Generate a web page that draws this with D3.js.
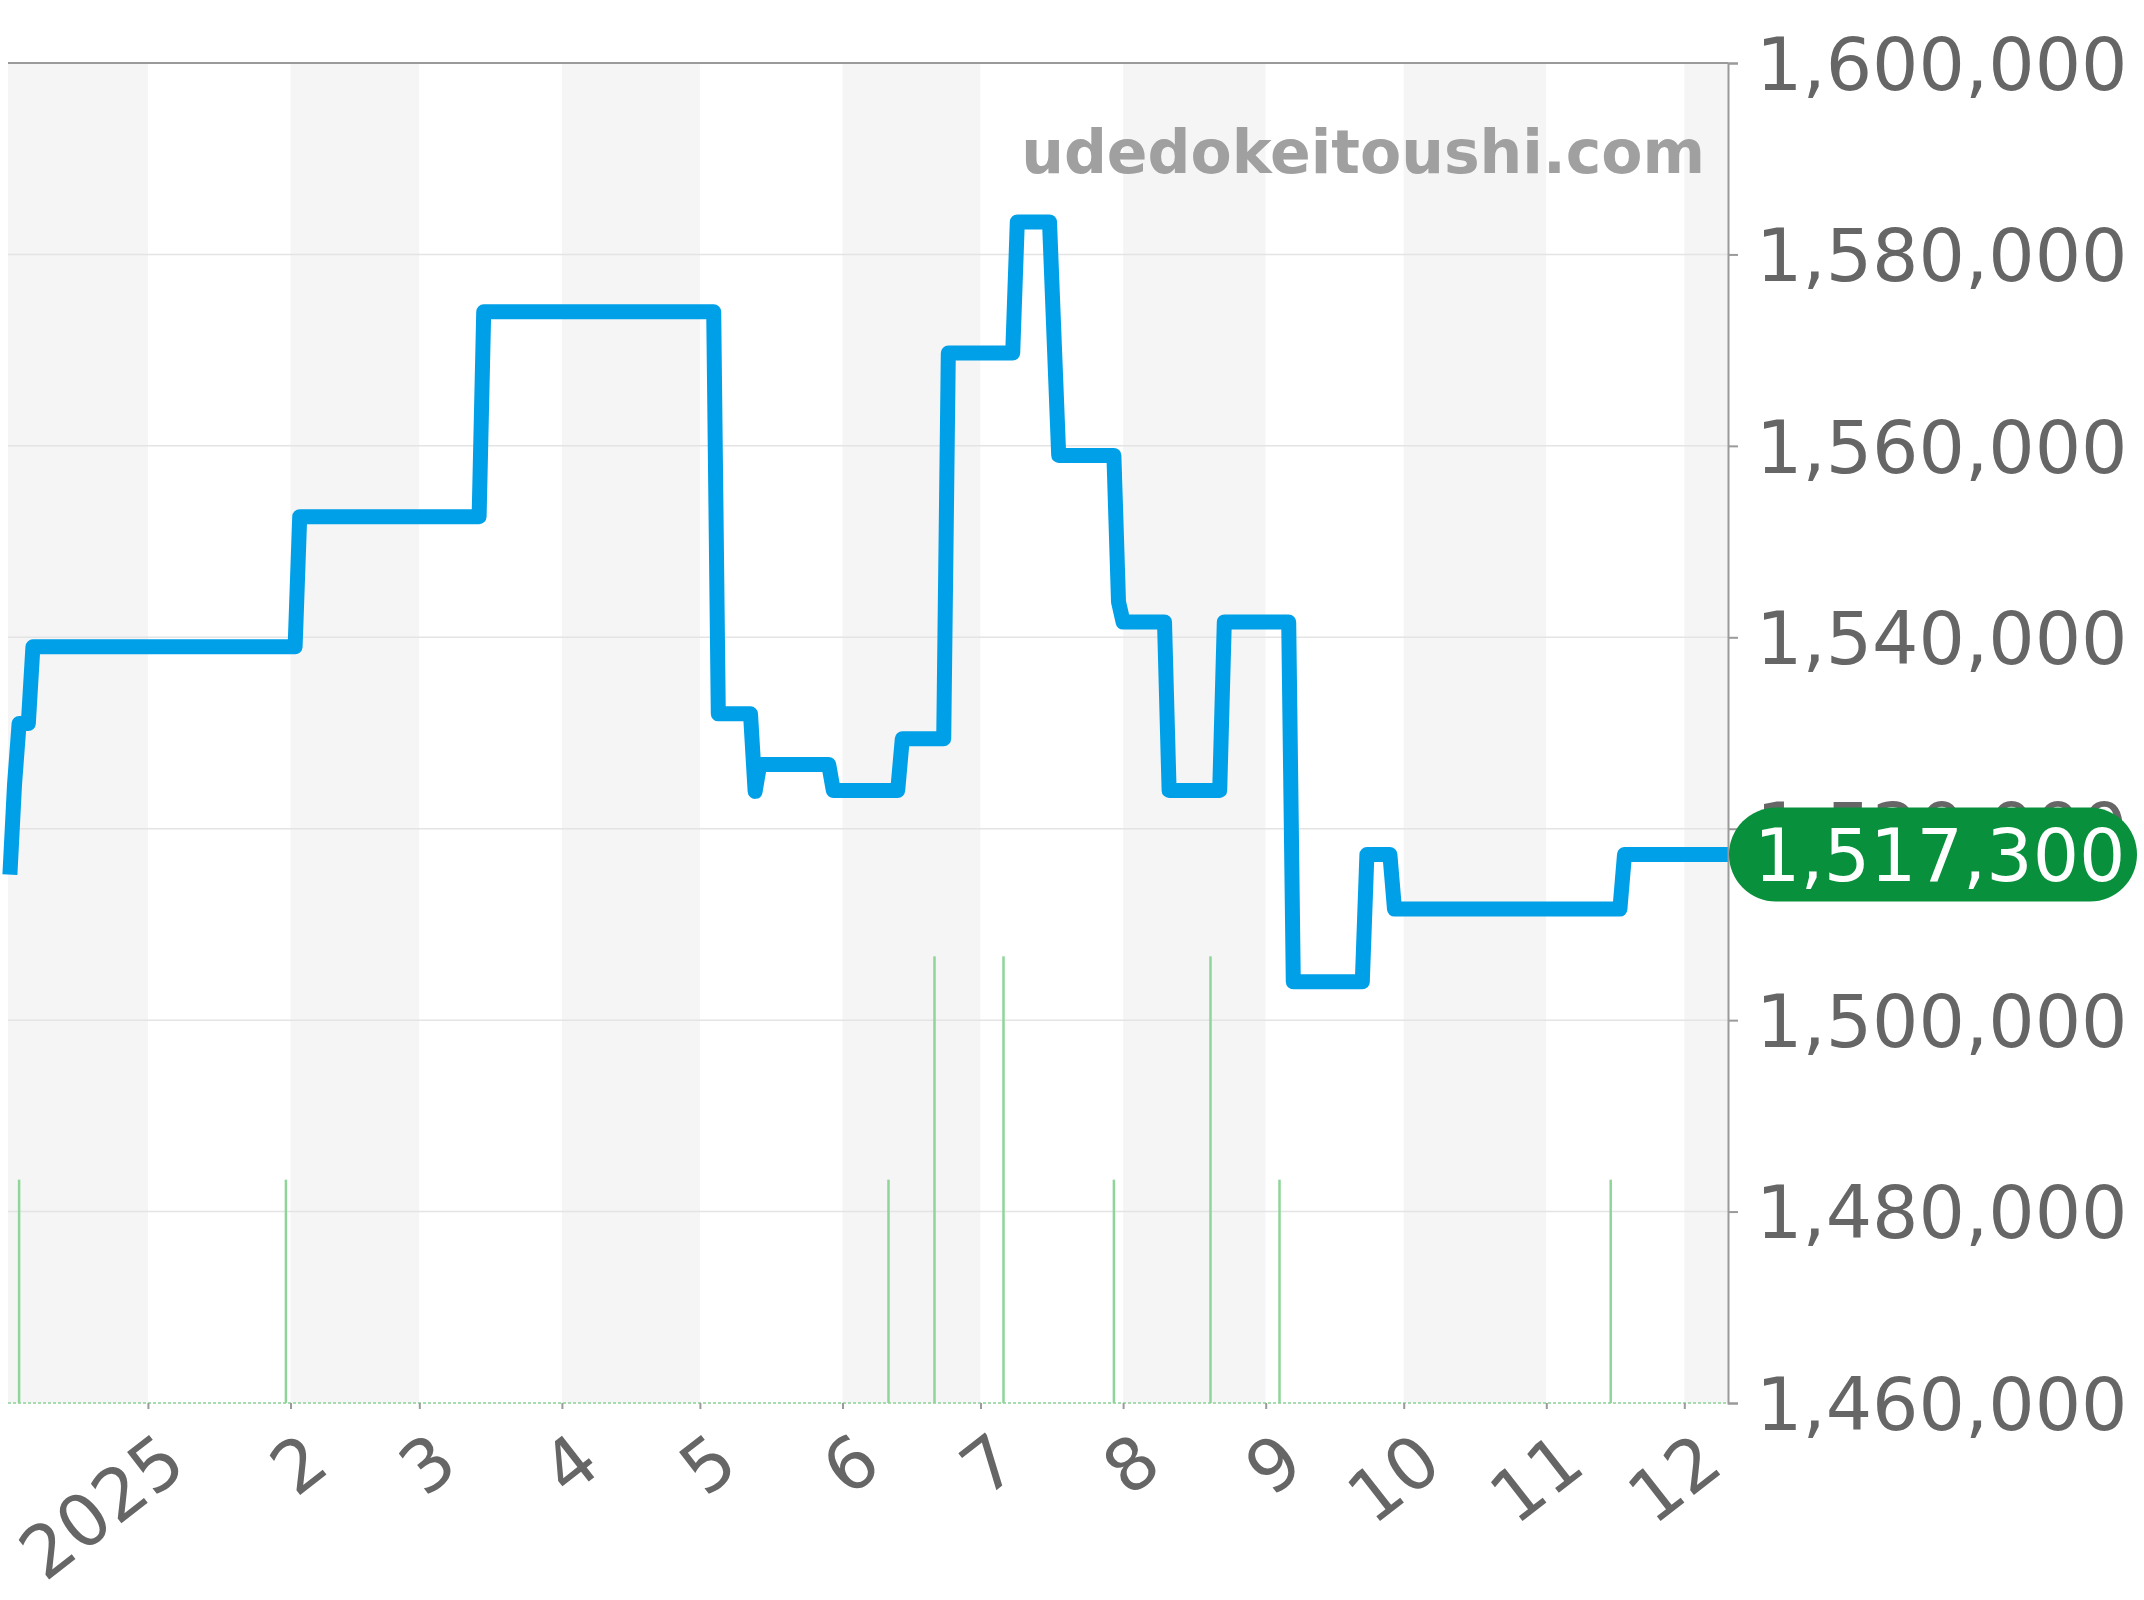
<!DOCTYPE html>
<html>
<head>
<meta charset="utf-8">
<script src="https://cdn.jsdelivr.net/npm/d3@7"></script>
<style>
  html, body { margin: 0; padding: 0; background: #ffffff; }
  svg { display: block; }
  text { font-family: "DejaVu Sans", sans-serif; }
</style>
</head>
<body>
<script>
// ---------------- data ----------------
const priceDates = [
  "2024-12-02", "2024-12-03", "2024-12-04", "2024-12-06", "2024-12-07",
  "2025-02-02", "2025-02-03", "2025-03-14", "2025-03-15",
  "2025-05-04", "2025-05-05", "2025-05-12", "2025-05-13", "2025-05-14",
  "2025-05-29", "2025-05-30", "2025-06-13", "2025-06-14",
  "2025-06-23", "2025-06-24", "2025-07-08", "2025-07-09",
  "2025-07-16", "2025-07-18", "2025-07-30", "2025-07-31", "2025-08-01",
  "2025-08-10", "2025-08-11", "2025-08-22", "2025-08-23",
  "2025-09-06", "2025-09-07", "2025-09-22", "2025-09-23",
  "2025-09-28", "2025-09-29", "2025-11-17", "2025-11-18", "2025-12-10 12"
];
const priceValues = [
  1515200, 1524600, 1531000, 1531000, 1539000,
  1539000, 1552600, 1552600, 1574000,
  1574000, 1532000, 1532000, 1523900, 1526700,
  1526700, 1524000, 1524000, 1529400,
  1529400, 1569700, 1569700, 1583400,
  1583400, 1559000, 1559000, 1543700, 1541600,
  1541600, 1524000, 1524000, 1541600,
  1541600, 1504000, 1504000, 1517300,
  1517300, 1511600, 1511600, 1517300, 1517300
];
const volumeDates = ["2024-12-04", "2025-01-31", "2025-06-11", "2025-06-21", "2025-07-06",
                     "2025-07-30", "2025-08-20", "2025-09-04", "2025-11-15"];
const volumeValues = [1, 1, 1, 2, 2, 1, 2, 1, 1];
const yTicks = [1460000, 1480000, 1500000, 1520000, 1540000, 1560000, 1580000, 1600000];
const monthLabels = ["2025", "2", "3", "4", "5", "6", "7", "8", "9", "10", "11", "12"];
const lastPrice = 1517300;
const watermark = "udedokeitoushi.com";

// ---------------- helpers ----------------
function parseDate(s) {
  const [d, h] = s.split(" ");
  const [yy, m, day] = d.split("-").map(Number);
  return new Date(yy, m - 1, day, h ? +h : 0);
}

const W = 2144, H = 1600;
const pL = 8, pR = 1728, pT = 63, pB = 1403;

const svg = d3.select("body").append("svg").attr("width", W).attr("height", H);

const x = d3.scaleTime()
  .domain([new Date(2024, 11, 1, 14), new Date(2025, 11, 10, 12)])
  .range([pL, pR]);
const y = d3.scaleLinear().domain([1460000, 1600000]).range([pB, pT]);
const yVol = d3.scaleLinear().domain([0, 6]).range([pB, pT]);

// month bands
const months = d3.timeMonth.range(new Date(2024, 11, 1), new Date(2026, 0, 1));
svg.append("g").selectAll("rect").data(months).join("rect")
  .attr("x", d => Math.max(pL, x(d)))
  .attr("y", pT)
  .attr("width", d => Math.max(0, Math.min(pR, x(d3.timeMonth.offset(d, 1))) - Math.max(pL, x(d))))
  .attr("height", pB - pT)
  .attr("fill", d => d.getMonth() % 2 === 1 ? "#f5f5f5" : "#ffffff");

// grid lines
svg.append("g").selectAll("line").data(yTicks.slice(1, -1)).join("line")
  .attr("x1", pL).attr("x2", pR)
  .attr("y1", d => y(d)).attr("y2", d => y(d))
  .attr("stroke", "#e4e4e4").attr("stroke-width", 1.5);

// top border
svg.append("line").attr("x1", pL).attr("x2", pR).attr("y1", y(1600000)).attr("y2", y(1600000))
  .attr("stroke", "#9a9a9a").attr("stroke-width", 2);

// watermark
svg.append("text").attr("x", 1705).attr("y", 173)
  .attr("text-anchor", "end").attr("font-size", 60).attr("font-weight", "bold")
  .attr("fill", "#a0a0a0").text(watermark);

// volume bars
const vol = volumeDates.map((d, i) => ({ date: parseDate(d), v: volumeValues[i] }));
svg.append("line").attr("x1", pL).attr("x2", pR).attr("y1", pB).attr("y2", pB)
  .attr("stroke", "#a6dcae").attr("stroke-width", 2).attr("stroke-dasharray", "3,2");
svg.append("g").selectAll("rect").data(vol).join("rect")
  .attr("x", d => x(d.date) - 1.25).attr("width", 2.5)
  .attr("y", d => yVol(d.v)).attr("height", d => pB - yVol(d.v))
  .attr("fill", "#8fd59a");

// price line
const price = priceDates.map((d, i) => ({ date: parseDate(d), v: priceValues[i] }));
svg.append("path").datum(price)
  .attr("d", d3.line().x(d => x(d.date)).y(d => y(d.v)))
  .attr("fill", "none").attr("stroke", "#00a0e8").attr("stroke-width", 15)
  .attr("stroke-linejoin", "round").attr("stroke-linecap", "butt");

// right axis
const yAxis = svg.append("g").attr("transform", `translate(${pR},0)`)
  .call(d3.axisRight(y).tickValues(yTicks).tickSize(10).tickPadding(16)
    .tickFormat(d3.format(",")));
yAxis.select(".domain").attr("stroke", "#9a9a9a").attr("stroke-width", 2);
yAxis.selectAll(".tick line").attr("stroke", "#9a9a9a").attr("stroke-width", 2);
yAxis.selectAll(".tick text").attr("font-size", 73).attr("fill", "#666666")
  .attr("font-family", "DejaVu Sans").attr("x", 28).attr("dy", "0.36em");

// bottom axis
const monthTicks = d3.timeMonth.range(new Date(2025, 0, 1), new Date(2025, 11, 2));
const xAxis = svg.append("g").attr("transform", `translate(0,${pB})`)
  .call(d3.axisBottom(x).tickValues(monthTicks).tickSize(6)
    .tickFormat((d, i) => monthLabels[i]));
xAxis.select(".domain").remove();
xAxis.selectAll(".tick line").attr("stroke", "#9a9a9a").attr("stroke-width", 2);
xAxis.selectAll(".tick text")
  .attr("font-size", 72).attr("fill", "#666666").attr("font-family", "DejaVu Sans")
  .attr("text-anchor", "end").attr("dy", null).attr("y", null)
  .attr("transform", "translate(41,67) rotate(-38)");

// last price pill
const py = y(lastPrice);
svg.append("rect").attr("x", 1729).attr("y", py - 47).attr("width", 408).attr("height", 94)
  .attr("rx", 47).attr("ry", 47).attr("fill", "#08903c");
svg.append("text").attr("x", 1754).attr("y", py).attr("dy", "0.36em")
  .attr("font-size", 73).attr("fill", "#ffffff").text(d3.format(",")(lastPrice));
</script>
</body>
</html>
